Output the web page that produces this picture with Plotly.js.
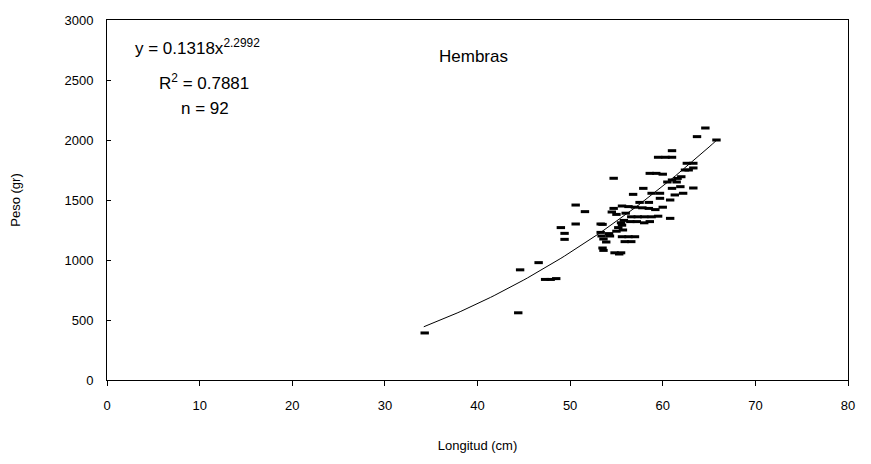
<!DOCTYPE html>
<html>
<head>
<meta charset="utf-8">
<script src="https://cdn.plot.ly/plotly-3.0.1.min.js"></script>
<style>html,body{margin:0;padding:0;background:#fff;}#chart{width:871px;height:464px;}</style>
</head>
<body>
<div id="chart"></div>
<script>
// Observed data: Longitud (cm) and Peso (gr)
var longitud = [34.3,44.4,44.6,46.6,47.3,47.9,48.5,49.0,49.4,49.4,50.6,50.6,51.6,53.3,53.5,53.3,53.4,53.6,53.5,53.6,
  54.3,54.7,54.5,54.7,55.0,54.8,55.3,55.5,55.6,55.7,55.8,55.5,55.2,55.6,56.3,57.0,55.9,56.6,56.8,57.9,
  58.8,59.7,55.6,56.3,57.0,57.8,58.5,59.2,56.6,57.3,58.0,58.8,59.5,56.5,57.2,58.0,58.6,60.8,59.7,60.8,
  61.3,61.0,61.9,62.2,58.6,59.3,60.0,59.5,60.3,61.0,61.0,61.0,61.6,62.0,62.4,62.8,63.3,62.6,63.3,63.7,
  64.6,65.8,63.3,60.5,61.5,57.5,58.5,56.0,60.0,54.2,55.0,53.9];
var peso = [392,560,918,978,838,838,845,1270,1222,1172,1458,1300,1403,1300,1297,1230,1200,1175,1100,1080,
  1200,1681,1400,1430,1380,1060,1050,1060,1290,1250,1330,1310,1270,1194,1194,1194,1153,1153,1547,1597,
  1556,1556,1450,1445,1440,1435,1430,1420,1360,1360,1360,1360,1365,1320,1320,1310,1320,1347,1514,1500,
  1542,1597,1611,1556,1722,1722,1715,1856,1856,1856,1911,1667,1680,1694,1750,1750,1767,1806,1806,2028,
  2100,2000,1600,1650,1650,1480,1480,1390,1440,1220,1240,1150];

// Fitted power trendline y = a * x^b (coefficients shown on chart)
var coefA = 0.1318, coefB = 2.2992;
var trendX = [], trendY = [];
for (var t = 34.2; t <= 65.8; t += 0.4) { trendX.push(t); trendY.push(coefA * Math.pow(t, coefB)); }

var xTicks = [0,10,20,30,40,50,60,70,80];
var yTicks = [0,500,1000,1500,2000,2500,3000];

var data = [
  {x: trendX, y: trendY, type: 'scatter', mode: 'lines', line: {color: '#000', width: 1}, hoverinfo: 'skip'},
  {x: longitud, y: peso, type: 'scatter', mode: 'markers',
   marker: {symbol: 'line-ew', size: 6, color: '#000', line: {color: '#000', width: 3}}}
];

var F = 'Arial, "Liberation Sans", sans-serif';
var layout = {
  width: 871, height: 464,
  margin: {l: 107, r: 23, t: 20, b: 84},
  paper_bgcolor: '#fff', plot_bgcolor: '#fff',
  showlegend: false,
  font: {family: F, color: '#000', size: 13},
  xaxis: {range: [0, 80], tickvals: xTicks, ticktext: xTicks.map(String), showgrid: false, zeroline: false,
    showline: true, mirror: true, linecolor: '#000', linewidth: 1, ticks: 'outside', ticklen: 5, tickcolor: '#000',
    ticklabelstandoff: 8,
    tickfont: {family: F, size: 13, color: '#000'},
    title: {text: 'Longitud (cm)', font: {family: F, size: 13, color: '#000'}, standoff: 29}},
  yaxis: {range: [0, 3000], tickvals: yTicks, ticktext: yTicks.map(String), showgrid: false, zeroline: false,
    showline: true, mirror: true, linecolor: '#000', linewidth: 1, ticks: 'inside', ticklen: 4, tickcolor: '#000',
    ticklabelstandoff: 10,
    tickfont: {family: F, size: 13, color: '#000'},
    title: {text: 'Peso (gr)', font: {family: F, size: 13, color: '#000'}, standoff: 40}},
  annotations: [
    {x: 2.8, y: 2775, xref: 'x', yref: 'y', xanchor: 'left', yanchor: 'middle', showarrow: false,
     text: 'y = 0.1318x<sup>2.2992</sup>', font: {family: F, size: 17, color: '#000'}},
    {x: 5.4, y: 2480, xref: 'x', yref: 'y', xanchor: 'left', yanchor: 'middle', showarrow: false,
     text: 'R<sup>2</sup> = 0.7881', font: {family: F, size: 17, color: '#000'}},
    {x: 7.8, y: 2265, xref: 'x', yref: 'y', xanchor: 'left', yanchor: 'middle', showarrow: false,
     text: 'n = 92', font: {family: F, size: 17, color: '#000'}},
    {x: 35.6, y: 2700, xref: 'x', yref: 'y', xanchor: 'left', yanchor: 'middle', showarrow: false,
     text: 'Hembras', font: {family: F, size: 17, color: '#000'}}
  ]
};

Plotly.newPlot('chart', data, layout, {displayModeBar: false, staticPlot: true});
</script>
</body>
</html>
